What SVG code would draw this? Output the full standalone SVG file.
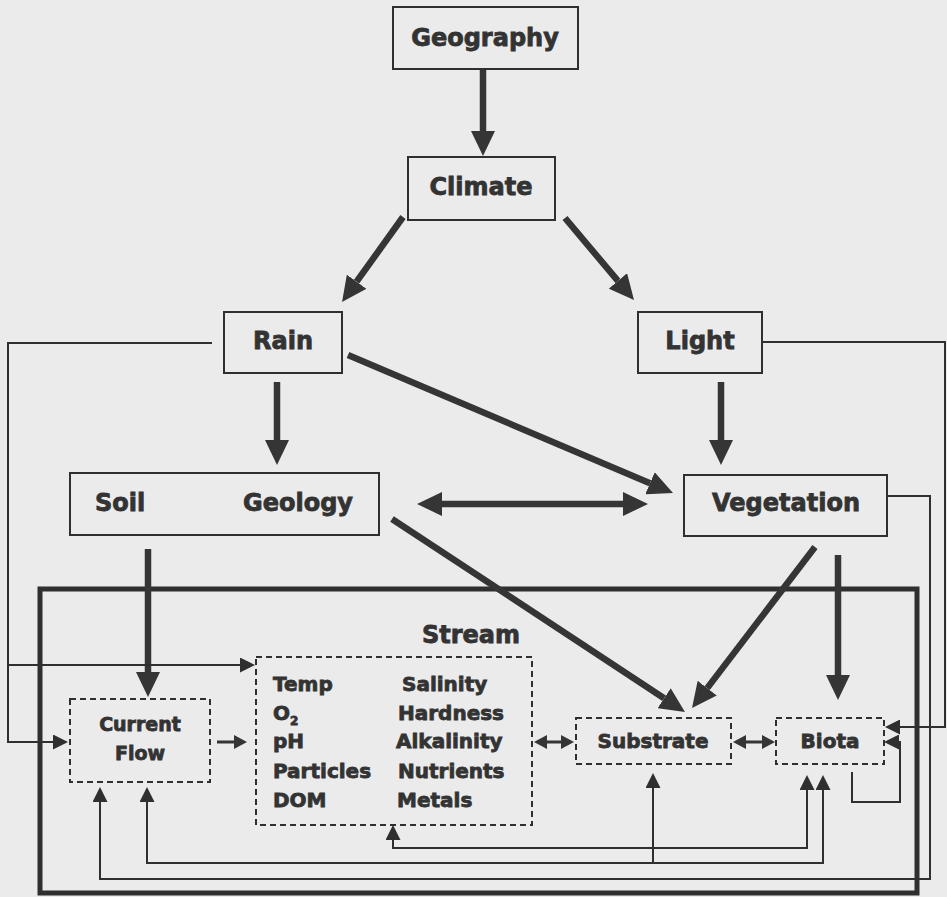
<svg xmlns="http://www.w3.org/2000/svg" width="947" height="897" viewBox="0 0 947 897">
<defs>
<style>
.bg{fill:#ebebeb}
.box{fill:none;stroke:#2f2f2f;stroke-width:2}
.dbox{fill:none;stroke:#2f2f2f;stroke-width:2;stroke-dasharray:6 4}
.lbl{font-family:"DejaVu Sans","Liberation Sans",sans-serif;font-weight:bold;fill:#333;stroke:#333;stroke-width:0.8;font-size:24px}
.mid{text-anchor:middle}
.sm{font-size:20px}
.thick{fill:none;stroke:#353535;stroke-width:6.5}
.thin{fill:none;stroke:#2f2f2f;stroke-width:2}
.med{fill:none;stroke:#353535;stroke-width:3}
.frame{fill:none;stroke:#2f2f2f;stroke-width:5}
</style>
<marker id="big" markerUnits="userSpaceOnUse" markerWidth="26" markerHeight="24" refX="0" refY="12" orient="auto-start-reverse"><path d="M0,0 L25,12 L0,24 z" fill="#353535"/></marker>
<marker id="sa" markerUnits="userSpaceOnUse" markerWidth="16" markerHeight="15" refX="0" refY="7.5" orient="auto-start-reverse"><path d="M0,0 L15,7.5 L0,15 z" fill="#2f2f2f"/></marker>
<marker id="ma" markerUnits="userSpaceOnUse" markerWidth="14" markerHeight="14" refX="0" refY="7" orient="auto-start-reverse"><path d="M0,0 L13,7 L0,14 z" fill="#353535"/></marker>
</defs>
<rect class="bg" x="0" y="0" width="947" height="897"/>

<g id="stream">
<rect class="frame" x="40" y="589" width="877" height="304"/>
<text class="lbl mid" x="471" y="643">Stream</text>
</g>

<g id="geography">
<rect class="box" x="393" y="7" width="185" height="62"/>
<text class="lbl mid" x="485" y="46">Geography</text>
</g>
<g id="climate">
<rect class="box" x="408" y="157" width="147" height="63"/>
<text class="lbl mid" x="481" y="195">Climate</text>
</g>
<g id="rain">
<rect class="box" x="224" y="312" width="118" height="61"/>
<text class="lbl mid" x="283" y="349">Rain</text>
</g>
<g id="light">
<rect class="box" x="638" y="312" width="124" height="61"/>
<text class="lbl mid" x="700" y="349">Light</text>
</g>
<g id="soil-geology">
<rect class="box" x="70" y="473" width="309" height="62"/>
<text class="lbl mid" x="120" y="511">Soil</text>
<text class="lbl mid" x="298" y="511">Geology</text>
</g>
<g id="vegetation">
<rect class="box" x="684" y="475" width="203" height="61"/>
<text class="lbl mid" x="786" y="511">Vegetation</text>
</g>
<g id="current-flow">
<rect class="dbox" x="70" y="699" width="140" height="83"/>
<text class="lbl mid" x="140" y="731" style="font-size:19px">Current</text>
<text class="lbl mid" x="140" y="760" style="font-size:19px">Flow</text>
</g>
<g id="water-quality">
<rect class="dbox" x="256" y="657" width="276" height="168"/>
<text class="lbl sm" x="273" y="691">Temp</text>
<text class="lbl sm" x="273" y="720">O<tspan style="font-size:12px" dy="5">2</tspan></text>
<text class="lbl sm" x="273" y="748">pH</text>
<text class="lbl sm" x="273" y="778">Particles</text>
<text class="lbl sm" x="273" y="807">DOM</text>
<text class="lbl sm" x="402" y="691">Salinity</text>
<text class="lbl sm" x="398" y="720">Hardness</text>
<text class="lbl sm" x="396" y="748">Alkalinity</text>
<text class="lbl sm" x="398" y="778">Nutrients</text>
<text class="lbl sm" x="397" y="807">Metals</text>
</g>
<g id="substrate">
<rect class="dbox" x="576" y="718" width="155" height="46"/>
<text class="lbl mid sm" x="653" y="748">Substrate</text>
</g>
<g id="biota">
<rect class="dbox" x="776" y="718" width="108" height="46"/>
<text class="lbl mid sm" x="830" y="748">Biota</text>
</g>

<g id="connectors">
<line class="thick" x1="483" y1="70" x2="483" y2="131" marker-end="url(#big)"/>
<line class="thick" x1="403" y1="217" x2="356.6" y2="281.7" marker-end="url(#big)"/>
<line class="thick" x1="565" y1="218" x2="617.9" y2="280.9" marker-end="url(#big)"/>
<line class="thick" x1="277" y1="382" x2="277" y2="440" marker-end="url(#big)"/>
<line class="thick" x1="721" y1="382" x2="721" y2="440" marker-end="url(#big)"/>
<line class="thick" x1="348" y1="355" x2="650" y2="483.2" marker-end="url(#big)"/>
<line class="thick" x1="442" y1="504" x2="623" y2="504" marker-start="url(#big)" marker-end="url(#big)"/>
<line class="thick" x1="392" y1="519" x2="664.1" y2="698.2" marker-end="url(#big)"/>
<line class="thick" x1="815" y1="547" x2="707.2" y2="688.1" marker-end="url(#big)"/>
<line class="thick" x1="838" y1="555" x2="838" y2="675" marker-end="url(#big)"/>
<line class="thick" x1="148" y1="549" x2="148" y2="672" marker-end="url(#big)"/>

<path class="thin" d="M212,343 H8 V742 H53" marker-end="url(#sa)"/>
<path class="thin" d="M8,665 H240" marker-end="url(#sa)"/>
<path class="thin" d="M762,342 H945 V727 H900" marker-end="url(#sa)"/>
<path class="thin" d="M887,496 H930 V879 H100 V802" marker-end="url(#sa)"/>
<path class="thin" d="M147,802 V863 H823 V790" marker-start="url(#sa)" marker-end="url(#sa)"/>
<path class="thin" d="M653,863 V788" marker-end="url(#sa)"/>
<path class="thin" d="M393,840 V848 H807 V790" marker-start="url(#sa)" marker-end="url(#sa)"/>
<path class="thin" d="M852,772 V802 H900 V742 H899" marker-end="url(#sa)"/>

<line class="med" x1="547" y1="742" x2="561" y2="742" marker-start="url(#ma)" marker-end="url(#ma)"/>
<line class="med" x1="746" y1="742" x2="762" y2="742" marker-start="url(#ma)" marker-end="url(#ma)"/>
<line class="med" x1="217" y1="742" x2="234" y2="742" marker-end="url(#ma)"/>
</g>
</svg>
